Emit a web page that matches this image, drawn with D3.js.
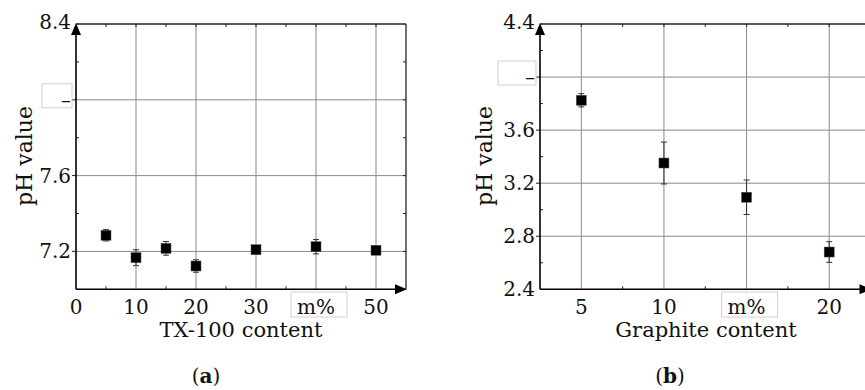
<!DOCTYPE html>
<html>
<head>
<meta charset="utf-8">
<script src="https://cdn.jsdelivr.net/npm/d3@7"></script>
<style>
  html, body { margin: 0; padding: 0; background: #fff; overflow: hidden; }
  svg { display: block; font-family: "DejaVu Serif", serif; }
</style>
</head>
<body>
<div id="chart"></div>
<script>
'use strict';

// panel (a): TX-100 content
const txContent = [5, 10, 15, 20, 30, 40, 50];
const phTx = [7.285, 7.167, 7.216, 7.123, 7.209, 7.225, 7.206];
const errTx = [0.03, 0.042, 0.036, 0.033, 0.015, 0.038, 0.015];
const txXTicks = [0, 10, 20, 30, 40, 50];
const txXLabels = ['0', '10', '20', '30', 'm%', '50'];
const txYTicks = [7.2, 7.6, 8.0, 8.4];
const txYLabels = ['7.2', '7.6', '–', '8.4'];

// panel (b): graphite content
const graphiteContent = [5, 10, 15, 20];
const phGraphite = [3.825, 3.352, 3.094, 2.681];
const errGraphite = [0.05, 0.158, 0.13, 0.078];
const grXTicks = [5, 10, 15, 20];
const grXLabels = ['5', '10', 'm%', '20'];
const grYTicks = [2.4, 2.8, 3.2, 3.6, 4.0, 4.4];
const grYLabels = ['2.4', '2.8', '3.2', '3.6', '–', '4.4'];

const svg = d3.select('#chart').append('svg')
  .attr('width', 865)
  .attr('height', 390);

function draw_panel(p){
  const g = svg.append('g');
  const x = d3.scaleLinear().domain(p.x_domain).range(p.x_range);
  const y = d3.scaleLinear().domain(p.y_domain).range([289.3, 24]);
  const x0 = p.x_range[0], x1 = p.x_range[1];
  const y0 = 289.3, y1 = 24;
  const y_top = p.y_domain[1];

  // grid
  g.append('g').selectAll('line')
    .data(p.x_grid)
    .join('line')
    .attr('x1', d => x(d)).attr('x2', d => x(d))
    .attr('y1', y0).attr('y2', y1)
    .attr('stroke', '#8a8a8a').attr('stroke-width', 1);
  g.append('g').selectAll('line')
    .data(p.y_grid)
    .join('line')
    .attr('x1', x0).attr('x2', x1)
    .attr('y1', d => y(d)).attr('y2', d => y(d))
    .attr('stroke', '#8a8a8a').attr('stroke-width', 1);

  // frame top / right
  g.append('line').attr('x1', x0).attr('x2', x1).attr('y1', y1).attr('y2', y1)
    .attr('stroke', '#222').attr('stroke-width', 1.3);
  g.append('line').attr('x1', x1).attr('x2', x1).attr('y1', y1).attr('y2', y0)
    .attr('stroke', '#222').attr('stroke-width', 1.3);

  // minor / major ticks (inward)
  const xt = g.append('g').attr('stroke', '#222').attr('stroke-width', 1);
  xt.selectAll('.tb').data(p.x_minor).join('line')
    .attr('class', 'tb')
    .attr('x1', d => x(d)).attr('x2', d => x(d)).attr('y1', y0).attr('y2', y0 - 3);
  xt.selectAll('.tt').data(p.x_minor.concat(p.x_grid)).join('line')
    .attr('class', 'tt')
    .attr('x1', d => x(d)).attr('x2', d => x(d)).attr('y1', y1).attr('y2', y1 + 3);
  const yt = g.append('g').attr('stroke', '#222').attr('stroke-width', 1);
  yt.selectAll('.tl').data(p.y_minor).join('line')
    .attr('class', 'tl')
    .attr('x1', x0).attr('x2', x0 + 3).attr('y1', d => y(d)).attr('y2', d => y(d));
  yt.selectAll('.tlo').data(p.y_grid).join('line')
    .attr('class', 'tlo')
    .attr('x1', x0 - 4).attr('x2', x0).attr('y1', d => y(d)).attr('y2', d => y(d));
  yt.selectAll('.tr').data(p.y_minor.concat(p.y_grid)).join('line')
    .attr('class', 'tr')
    .attr('x1', x1).attr('x2', x1 - 3).attr('y1', d => y(d)).attr('y2', d => y(d));

  // axes with arrows
  g.append('line').attr('x1', x0).attr('x2', x1 - 6).attr('y1', y0).attr('y2', y0)
    .attr('stroke', '#000').attr('stroke-width', 1.6);
  g.append('line').attr('x1', x0).attr('x2', x0).attr('y1', y0).attr('y2', y1 + 6)
    .attr('stroke', '#000').attr('stroke-width', 1.6);
  g.append('path')
    .attr('d', `M${x0 - 5},${y1 + 11} L${x0},${y1 - 1} L${x0 + 5},${y1 + 11} Z`)
    .attr('fill', '#000');
  g.append('path')
    .attr('d', `M${x1 - 11},${y0 - 5} L${x1 + 1},${y0} L${x1 - 11},${y0 + 5} Z`)
    .attr('fill', '#000');

  // tick labels
  g.append('g').selectAll('text')
    .data(p.x_ticks)
    .join('text')
    .attr('x', d => x(d))
    .attr('y', 314)
    .attr('text-anchor', 'middle')
    .style('font-size', '20px')
    .attr('fill', '#111')
    .text((d, i) => p.x_labels[i]);
  g.append('g').selectAll('text')
    .data(p.y_ticks)
    .join('text')
    .attr('x', x0 - 5)
    .attr('y', d => y(d) + (d === y_top ? 5 : 7))
    .attr('text-anchor', 'end')
    .style('font-size', '20px')
    .attr('fill', '#111')
    .text((d, i) => p.y_labels[i]);

  // light boxes around the placeholder labels
  g.append('rect')
    .attr('x', x(p.m_tick) - 25).attr('y', 292)
    .attr('width', 56).attr('height', 25)
    .attr('fill', 'none').attr('stroke', '#d0d0d0');
  g.append('rect')
    .attr('x', x0 - 4 - p.dash_w).attr('y', y(p.dash_tick) - 16)
    .attr('width', p.dash_w).attr('height', 24)
    .attr('fill', 'none').attr('stroke', '#d0d0d0');

  // titles
  g.append('text')
    .attr('x', p.title_x)
    .attr('y', 337)
    .attr('text-anchor', 'middle')
    .style('font-size', '21px')
    .attr('fill', '#111')
    .text(p.x_title);
  g.append('text')
    .attr('transform', `translate(${p.y_title_x},156) rotate(-90)`)
    .attr('text-anchor', 'middle')
    .style('font-size', '22px')
    .attr('fill', '#111')
    .text('pH value');
  const lab = g.append('text')
    .attr('x', p.label_x)
    .attr('y', 383)
    .attr('text-anchor', 'middle')
    .style('font-size', '20px')
    .attr('fill', '#111');
  lab.append('tspan').text('(');
  lab.append('tspan').style('font-weight', 'bold').text(p.label);
  lab.append('tspan').text(')');

  // error bars
  const eb = g.append('g').attr('stroke', '#333').attr('stroke-width', 1);
  p.xs.forEach((xv, i) => {
    const cx = x(xv);
    const lo = y(p.ys[i] - p.errs[i]);
    const hi = y(p.ys[i] + p.errs[i]);
    eb.append('line').attr('x1', cx).attr('x2', cx).attr('y1', lo).attr('y2', hi);
    eb.append('line').attr('x1', cx - 3).attr('x2', cx + 3).attr('y1', lo).attr('y2', lo);
    eb.append('line').attr('x1', cx - 3).attr('x2', cx + 3).attr('y1', hi).attr('y2', hi);
  });

  // markers
  g.append('g').selectAll('rect')
    .data(p.xs)
    .join('rect')
    .attr('x', d => x(d) - 5)
    .attr('y', (d, i) => y(p.ys[i]) - 5)
    .attr('width', 10)
    .attr('height', 10)
    .attr('fill', '#000')
    .attr('stroke', '#555')
    .attr('stroke-width', 0.5);
}

draw_panel({
  x_domain: [0, 55], x_range: [76, 406],
  y_domain: [7.0, 8.4],
  x_grid: [10, 20, 30, 40, 50], y_grid: [7.2, 7.6, 8.0],
  x_minor: [5, 15, 25, 35, 45], y_minor: [7.4, 7.8, 8.2],
  x_ticks: txXTicks, x_labels: txXLabels,
  y_ticks: txYTicks, y_labels: txYLabels,
  m_tick: 40, dash_tick: 8.0, dash_w: 30,
  x_title: 'TX-100 content', title_x: 241,
  y_title_x: 32, label_x: 206, label: 'a',
  xs: txContent, ys: phTx, errs: errTx
});

draw_panel({
  x_domain: [2.5, 22.5], x_range: [540, 870.5],
  y_domain: [2.4, 4.4],
  x_grid: [5, 10, 15, 20], y_grid: [2.8, 3.2, 3.6, 4.0],
  x_minor: [7.5, 12.5, 17.5], y_minor: [2.6, 3.0, 3.4, 3.8, 4.2],
  x_ticks: grXTicks, x_labels: grXLabels,
  y_ticks: grYTicks, y_labels: grYLabels,
  m_tick: 15, dash_tick: 4.0, dash_w: 38,
  x_title: 'Graphite content', title_x: 706,
  y_title_x: 492, label_x: 670, label: 'b',
  xs: graphiteContent, ys: phGraphite, errs: errGraphite
});
</script>
</body>
</html>
